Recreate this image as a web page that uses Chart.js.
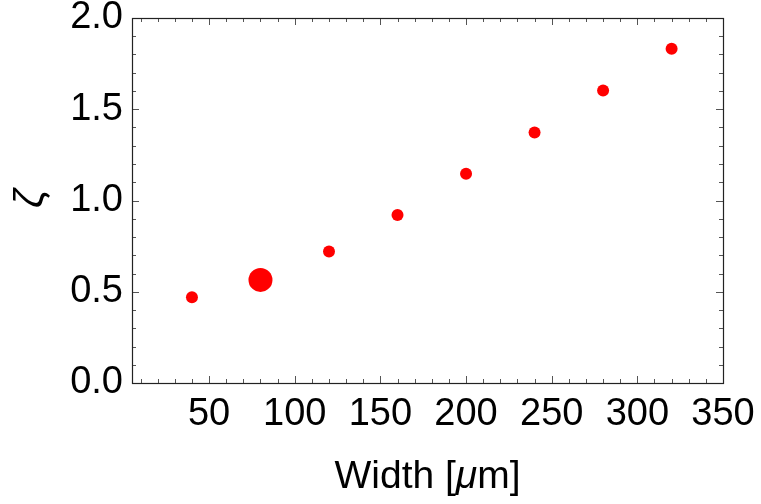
<!DOCTYPE html>
<html>
<head>
<meta charset="utf-8">
<script src="https://cdn.jsdelivr.net/npm/chart.js@4.4.1/dist/chart.umd.min.js"></script>
<style>
  html, body { margin: 0; padding: 0; background: #fff; }
  #wrap { width: 761px; height: 504px; }
</style>
</head>
<body>
<div id="wrap"><canvas id="c" width="761" height="504"></canvas></div>
<script>
// ---- data ----
const widths = [40, 80, 120, 160, 200, 240, 280, 320];
const zetaValues = [0.470, 0.565, 0.720, 0.921, 1.146, 1.373, 1.603, 1.832];
const highlightIndex = 1;
const xTickValues = [50, 100, 150, 200, 250, 300, 350];
const yTickValues = [0, 0.5, 1.0, 1.5, 2.0];
const xMinorStep = 10;
const yMinorStep = 0.1;
const xTitle = ['Width [', 'μ', 'm]'];
const yTitle = 'ζ';

const FONT = '"Liberation Sans", Arial, sans-serif';
const TICK_FONT_SIZE = 38;

const framePlugin = {
  id: 'frame',
  beforeDatasetsDraw(chart) {
    const { ctx, chartArea: a, scales } = chart;
    const xs = scales.x, ys = scales.y;
    ctx.save();
    ctx.strokeStyle = '#555';
    ctx.lineWidth = 1;
    const drawX = (v, len) => {
      const px = Math.round(xs.getPixelForValue(v)) + 0.5;
      ctx.beginPath();
      ctx.moveTo(px, a.bottom); ctx.lineTo(px, a.bottom - len);
      ctx.moveTo(px, a.top); ctx.lineTo(px, a.top + len);
      ctx.stroke();
    };
    const drawY = (v, len) => {
      const py = Math.round(ys.getPixelForValue(v)) + 0.5;
      ctx.beginPath();
      ctx.moveTo(a.left, py); ctx.lineTo(a.left + len, py);
      ctx.moveTo(a.right, py); ctx.lineTo(a.right - len, py);
      ctx.stroke();
    };
    for (let i = Math.ceil(xs.min / xMinorStep); i * xMinorStep <= xs.max + 1e-9; i++) {
      const v = i * xMinorStep;
      drawX(v, (Math.abs(v % 50) < 1e-9) ? 7 : 4);
    }
    for (let i = 0; i * yMinorStep <= ys.max + 1e-9; i++) {
      const v = i * yMinorStep;
      drawY(v, (i % 5 === 0) ? 7 : 4);
    }
    ctx.strokeStyle = '#222';
    ctx.lineWidth = 1.2;
    ctx.strokeRect(Math.round(a.left) + 0.5, Math.round(a.top) + 0.5,
                   Math.round(a.right - a.left), Math.round(a.bottom - a.top));
    ctx.restore();
  },
  afterDraw(chart) {
    const { ctx, chartArea: a } = chart;
    ctx.save();
    ctx.fillStyle = '#000';
    ctx.textBaseline = 'alphabetic';
    const fN = '39px ' + FONT, fI = 'italic 39px ' + FONT;
    ctx.font = fN; const w0 = ctx.measureText(xTitle[0]).width;
    ctx.font = fI; const w1 = ctx.measureText(xTitle[1]).width;
    ctx.font = fN; const w2 = ctx.measureText(xTitle[2]).width;
    const total = w0 + w1 + w2;
    let x = (a.left + a.right) / 2 - total / 2;
    const y = 488;
    ctx.textAlign = 'left';
    ctx.font = fN; ctx.fillText(xTitle[0], x, y); x += w0;
    ctx.font = fI; ctx.fillText(xTitle[1], x, y); x += w1;
    ctx.font = fN; ctx.fillText(xTitle[2], x, y);
    ctx.translate(43, 198.5);
    ctx.rotate(-Math.PI / 2);
    ctx.textAlign = 'center';
    ctx.font = 'italic 41px ' + FONT;
    ctx.fillText(yTitle, 0, 0);
    ctx.restore();
  }
};

new Chart(document.getElementById('c'), {
  type: 'scatter',
  data: {
    datasets: [{
      data: widths.map((w, i) => ({ x: w, y: zetaValues[i] })),
      backgroundColor: '#ff0000',
      borderWidth: 0,
      pointRadius: (c) => c.dataIndex === highlightIndex ? 12 : 6,
      pointHoverRadius: (c) => c.dataIndex === highlightIndex ? 12 : 6
    }]
  },
  options: {
    responsive: false,
    animation: false,
    events: [],
    layout: { padding: { top: 18, right: 38, left: 0, bottom: 0 } },
    plugins: { legend: { display: false }, tooltip: { enabled: false } },
    scales: {
      x: {
        type: 'linear',
        min: 5, max: 350,
        grid: { display: false, drawTicks: false },
        border: { display: false },
        afterBuildTicks: (s) => { s.ticks = xTickValues.map(v => ({ value: v })); },
        afterFit: (s) => { s.height = 121; s.paddingLeft = 0; s.paddingRight = 0; },
        ticks: {
          color: '#000', padding: 9, maxRotation: 0, autoSkip: false,
          font: { family: FONT, size: TICK_FONT_SIZE },
          callback: (v) => String(v)
        }
      },
      y: {
        min: 0, max: 2,
        grid: { display: false, drawTicks: false },
        border: { display: false },
        afterBuildTicks: (s) => { s.ticks = yTickValues.map(v => ({ value: v })); },
        afterFit: (s) => { s.width = 132; s.paddingTop = 0; s.paddingBottom = 0; },
        ticks: {
          color: '#000', padding: 9, autoSkip: false,
          font: { family: FONT, size: TICK_FONT_SIZE },
          callback: (v) => Number(v).toFixed(1)
        }
      }
    }
  },
  plugins: [framePlugin]
});
</script>
</body>
</html>
